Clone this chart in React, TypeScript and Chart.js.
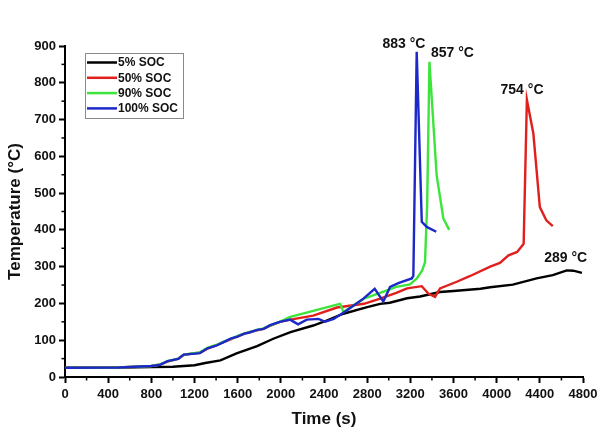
import React, { useEffect, useRef } from 'react';
import { Chart, registerables } from 'chart.js';

Chart.register(...registerables);

const seriesNames = ['5% SOC', '50% SOC', '90% SOC', '100% SOC'];
const seriesColors = ['#000000', '#e0201c', '#3ce43c', '#1c28c8'];

const time5 = [0, 400, 800, 1000, 1200, 1300, 1440, 1590, 1780, 1930, 2090, 2300, 2430, 2580, 2800, 2920, 3010, 3170, 3290, 3475, 3600, 3850, 3940, 4150, 4370, 4520, 4650, 4710, 4790];
const temp5 = [25, 25, 27, 28, 32, 38, 45, 64, 84, 104, 122, 140, 154, 172, 190, 199, 202, 214, 219, 231, 234, 240, 244, 251, 268, 277, 290, 289, 283];

const time50 = [0, 500, 800, 880, 950, 1050, 1100, 1180, 1250, 1320, 1400, 1470, 1540, 1600, 1660, 1710, 1780, 1840, 1900, 1990, 2090, 2300, 2520, 2770, 2920, 3070, 3170, 3306, 3367, 3429, 3475, 3630, 3750, 3940, 4030, 4110, 4190, 4250, 4280, 4340, 4400, 4460, 4520];
const temp50 = [25, 26, 30, 34, 42, 50, 60, 64, 66, 77, 86, 95, 103, 111, 117, 122, 127, 131, 139, 150, 156, 167, 189, 199, 213, 229, 241, 247, 227, 218, 241, 259, 274, 300, 310, 331, 340, 362, 754, 662, 462, 426, 410];

const time90 = [0, 500, 800, 880, 950, 1050, 1100, 1180, 1250, 1320, 1400, 1470, 1540, 1600, 1660, 1710, 1780, 1840, 1900, 1990, 2080, 2300, 2520, 2550, 2580, 2770, 2920, 3070, 3197, 3260, 3310, 3336, 3356, 3377, 3444, 3506, 3560];
const temp90 = [25, 26, 30, 34, 43, 50, 61, 64, 67, 79, 87, 96, 104, 112, 118, 122, 128, 132, 140, 150, 163, 180, 197, 199, 177, 213, 229, 245, 252, 268, 290, 312, 470, 857, 548, 431, 400];

const time100 = [0, 500, 800, 880, 950, 1050, 1100, 1180, 1250, 1320, 1400, 1470, 1540, 1600, 1660, 1710, 1780, 1840, 1900, 1990, 2085, 2160, 2240, 2350, 2410, 2490, 2610, 2765, 2870, 2950, 3012, 3089, 3213, 3228, 3259, 3306, 3352, 3440];
const temp100 = [25, 26, 30, 33, 43, 49, 61, 63, 65, 78, 85, 95, 105, 110, 118, 121, 128, 131, 141, 150, 156, 143, 156, 158, 150, 158, 181, 213, 240, 205, 245, 255, 268, 275, 884, 422, 408, 395];

const xTicksMajor = { min: 0, max: 4800, step: 400 };
const yTicksMajor = { min: 0, max: 900, step: 100 };

const peakLabels = ['883 °C', '857 °C', '754 °C', '289 °C'];
const peakLabelX = [3140, 3590, 4235, 4640];
const peakLabelY = [905, 880, 780, 323];

const FONT = '"Liberation Sans", Arial, sans-serif';

const makePoints = (t: number[], v: number[]) => t.map((x, i) => ({ x, y: v[i] }));

const decorPlugin = {
  id: 'decor',
  afterDraw(chart: any) {
    const ctx = chart.ctx;
    const xs = chart.scales.x;
    const ys = chart.scales.y;
    const area = chart.chartArea;
    ctx.save();
    // minor ticks
    ctx.strokeStyle = '#000';
    ctx.lineWidth = 1.5;
    for (let v = xTicksMajor.min + xTicksMajor.step / 2; v < xTicksMajor.max; v += xTicksMajor.step) {
      const px = xs.getPixelForValue(v);
      ctx.beginPath();
      ctx.moveTo(px, area.bottom);
      ctx.lineTo(px, area.bottom + 3.5);
      ctx.stroke();
    }
    for (let v = yTicksMajor.min + yTicksMajor.step / 2; v < yTicksMajor.max; v += yTicksMajor.step) {
      const py = ys.getPixelForValue(v);
      ctx.beginPath();
      ctx.moveTo(area.left, py);
      ctx.lineTo(area.left - 3.5, py);
      ctx.stroke();
    }
    // peak labels
    ctx.fillStyle = '#111';
    ctx.font = 'bold 14px ' + FONT;
    ctx.textAlign = 'center';
    ctx.textBaseline = 'middle';
    peakLabels.forEach((lab, i) => {
      ctx.fillText(lab, xs.getPixelForValue(peakLabelX[i]), ys.getPixelForValue(peakLabelY[i]));
    });
    // legend
    const bx = area.left + 20;
    const by = area.top + 7;
    const bw = 98;
    const rowH = 15.3;
    const bh = 65;
    ctx.fillStyle = '#fff';
    ctx.fillRect(bx, by, bw, bh);
    ctx.strokeStyle = '#8a8a8a';
    ctx.lineWidth = 1;
    ctx.strokeRect(bx + 0.5, by + 0.5, bw, bh);
    ctx.font = 'bold 12px ' + FONT;
    ctx.textAlign = 'left';
    chart.data.datasets.forEach((ds: any, i: number) => {
      const cy = by + 9.5 + i * rowH;
      ctx.strokeStyle = ds.borderColor;
      ctx.lineWidth = 2.5;
      ctx.beginPath();
      ctx.moveTo(bx + 2, cy);
      ctx.lineTo(bx + 32, cy);
      ctx.stroke();
      ctx.fillStyle = '#111';
      ctx.fillText(ds.label, bx + 33, cy + 0.5);
    });
    ctx.restore();
  },
};

export default function App() {
  const ref = useRef<HTMLCanvasElement | null>(null);
  useEffect(() => {
    document.body.style.margin = '0';
    const canvas = ref.current!;
    const times = [time5, time50, time90, time100];
    const temps = [temp5, temp50, temp90, temp100];
    const orders = [3, 2, 1, 0];
    const chart = new Chart(canvas, {
      type: 'line',
      data: {
        datasets: seriesNames.map((name, i) => ({
          label: name,
          data: makePoints(times[i], temps[i]),
          borderColor: seriesColors[i],
          backgroundColor: seriesColors[i],
          borderWidth: 2.4,
          pointRadius: 0,
          tension: 0,
          fill: false,
          order: orders[i],
        })),
      },
      options: {
        responsive: false,
        animation: false,
        layout: { padding: { top: 46, right: 32, left: 0, bottom: 0 } },
        plugins: { legend: { display: false }, tooltip: { enabled: false } },
        scales: {
          x: {
            type: 'linear',
            min: xTicksMajor.min,
            max: xTicksMajor.max,
            afterFit: (s: any) => { s.height = 58; },
            ticks: {
              stepSize: xTicksMajor.step,
              color: '#111',
              padding: 4,
              maxRotation: 0,
              autoSkip: false,
              callback: (v: any) => String(v),
              font: { family: FONT, size: 13, weight: 'bold' },
            },
            grid: { drawOnChartArea: false, drawTicks: true, tickLength: 6, tickWidth: 2, tickColor: '#000' },
            border: { display: true, color: '#000', width: 2 },
            title: {
              display: true,
              text: 'Time (s)',
              color: '#111',
              font: { family: FONT, size: 17, weight: 'bold' },
              padding: { top: 0, bottom: 5 },
            },
          },
          y: {
            type: 'linear',
            min: yTicksMajor.min,
            max: yTicksMajor.max,
            afterFit: (s: any) => { s.width = 65; },
            ticks: {
              stepSize: yTicksMajor.step,
              color: '#111',
              padding: 3,
              callback: (v: any) => String(v),
              font: { family: FONT, size: 13, weight: 'bold' },
            },
            grid: { drawOnChartArea: false, drawTicks: true, tickLength: 6, tickWidth: 2, tickColor: '#000' },
            border: { display: true, color: '#000', width: 2 },
            title: {
              display: true,
              text: 'Temperature (°C)',
              color: '#111',
              font: { family: FONT, size: 17, weight: 'bold' },
              padding: { top: 5, bottom: 0 },
            },
          },
        },
      },
      plugins: [decorPlugin],
    } as any);
    return () => chart.destroy();
  }, []);
  return (
    <div style={{ width: 615, height: 435, background: '#fff' }}>
      <canvas ref={ref} width={615} height={435} style={{ display: 'block' }} />
    </div>
  );
}
